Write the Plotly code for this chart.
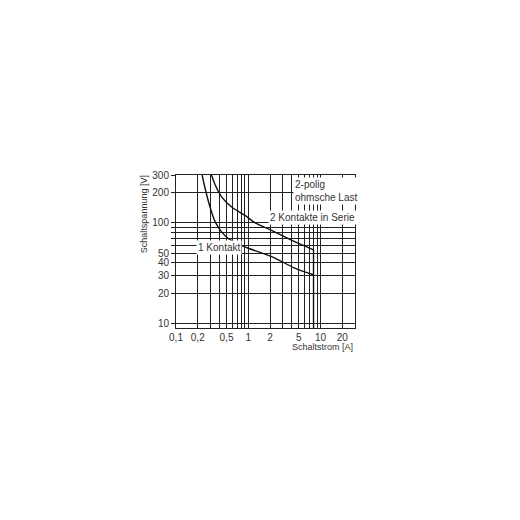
import numpy as np
import plotly.graph_objects as go

# (current in A, voltage in V)
one_contact_a = [0.23, 0.26, 0.30, 0.35, 0.43, 0.53, 0.73, 1.0, 1.7, 2.3, 4.4, 8.0]
one_contact_v = [300, 203, 139, 102, 81, 70, 62, 56, 49, 45, 35.5, 30.5]

two_series_a = [0.31, 0.35, 0.43, 0.59, 0.9, 1.25, 2.0, 4.4, 8.0]
two_series_v = [300, 237, 181, 144, 119, 100, 86, 65, 54]

limit_a = [8.0, 8.0]
limit_v = [9, 54]

x_grid = [0.1, 0.2, 0.3, 0.4, 0.5, 0.6, 0.7, 0.8, 0.9, 1, 2, 3, 4, 5, 6, 7, 8, 9, 10, 20]
x_labels = ["0,1", "0,2", "", "", "0,5", "", "", "", "", "1", "2", "", "", "5", "", "", "", "", "10", "20"]
y_grid = [10, 20, 30, 40, 50, 60, 70, 80, 90, 100, 200, 300]
y_labels = ["10", "20", "30", "40", "50", "", "", "", "", "100", "200", "300"]

line_style = dict(color="#111", width=1.4, shape="spline", smoothing=1.0)

fig = go.Figure()
fig.add_trace(go.Scatter(x=one_contact_a, y=one_contact_v, mode="lines", line=line_style))
fig.add_trace(go.Scatter(x=two_series_a, y=two_series_v, mode="lines", line=line_style))
fig.add_trace(go.Scatter(x=limit_a, y=limit_v, mode="lines", line=dict(color="#111", width=1.4)))

font = dict(family="Liberation Sans", size=10, color="#333")
title_font = dict(family="Liberation Sans", size=9, color="#333")
grid = dict(showgrid=True, gridcolor="#222", gridwidth=0.8, showline=True,
            linecolor="#222", linewidth=1, mirror=True, zeroline=False,
            tickfont=font)

fig.update_xaxes(type="log", range=[np.log10(0.1), np.log10(30)],
                 tickmode="array", tickvals=x_grid, ticktext=x_labels,
                 ticks="", **grid)
fig.update_yaxes(type="log", range=[np.log10(9), np.log10(300)],
                 tickmode="array", tickvals=y_grid, ticktext=y_labels,
                 ticks="outside", ticklen=4, tickcolor="#222", **grid)

notes = [
    dict(text="2-polig<br>ohmsche Last", x=0.655, y=0.985, xanchor="left", yanchor="top", align="left"),
    dict(text="2 Kontakte in Serie", x=0.76, y=0.72, xanchor="center", yanchor="middle"),
    dict(text="1 Kontakt", x=0.24, y=0.527, xanchor="center", yanchor="middle"),
]
for n in notes:
    fig.add_annotation(xref="paper", yref="paper", showarrow=False,
                       bgcolor="white", borderpad=1, font=font, **n)

# axis titles placed like the original
fig.add_annotation(text="Schaltspannung [V]", xref="paper", yref="paper",
                   x=-0.175, y=1.01, xanchor="center", yanchor="top",
                   textangle=-90, showarrow=False, font=title_font)
fig.add_annotation(text="Schaltstrom [A]", xref="paper", yref="paper",
                   x=1.0, y=-0.125, xanchor="right", yanchor="middle",
                   showarrow=False, font=title_font)

# page body adds ~8px offset, so margins are shifted by that
fig.update_layout(
    width=520, height=520,
    margin=dict(l=168, r=173, t=167, b=200),
    showlegend=False,
    plot_bgcolor="white", paper_bgcolor="white",
)

fig.write_html("out.html")
